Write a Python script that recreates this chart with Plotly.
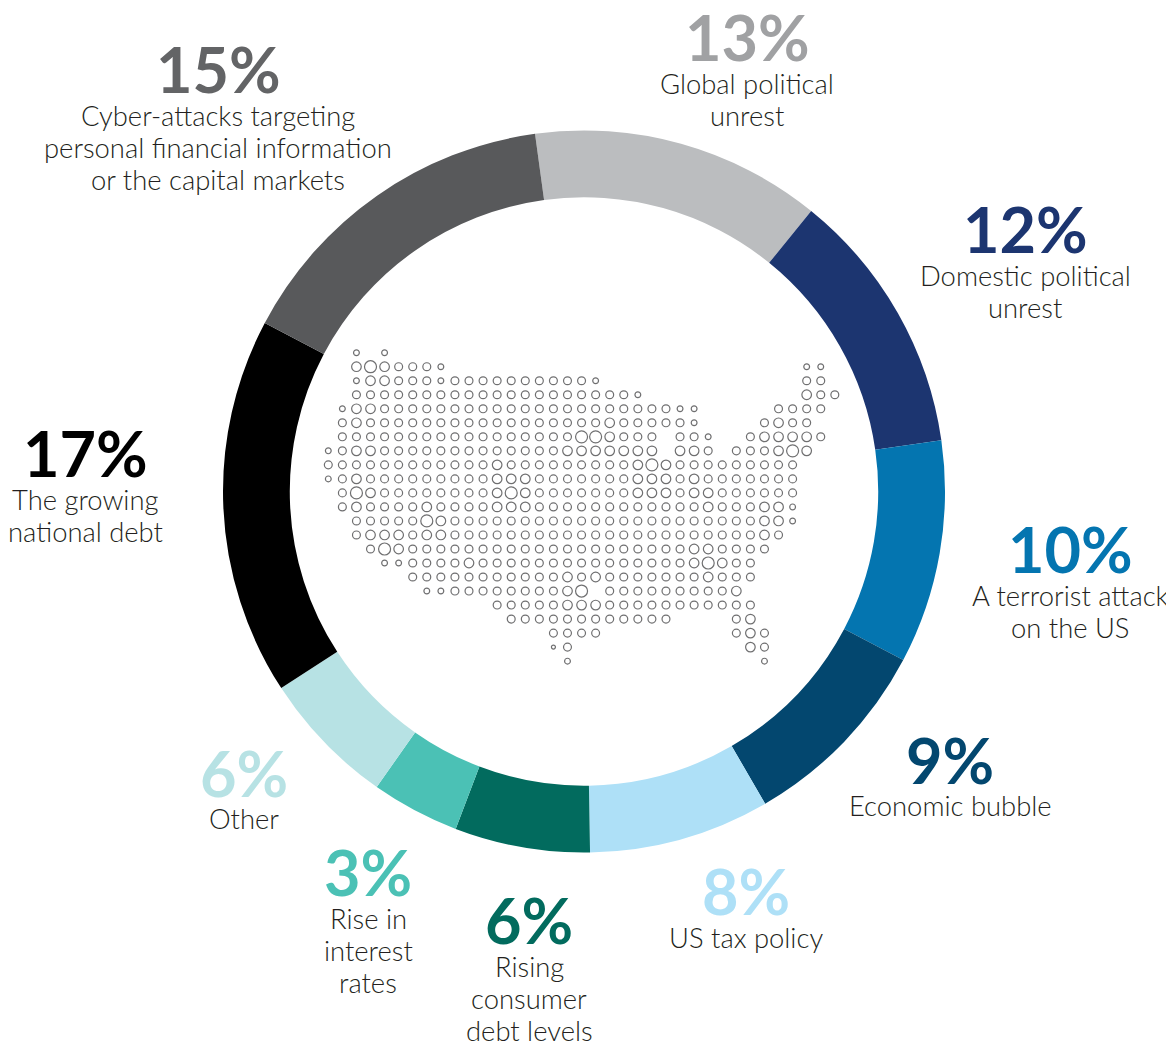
import plotly.graph_objects as go

# ---- chart data ----
categories = ["Global political\nunrest", "Domestic political\nunrest", "A terrorist attack\non the US",
              "Economic bubble", "US tax policy", "Rising\nconsumer\ndebt levels",
              "Rise in\ninterest\nrates", "Other", "The growing\nnational debt",
              "Cyber-attacks targeting\npersonal financial information\nor the capital markets"]
percent_labels = [13, 12, 10, 9, 8, 6, 3, 6, 17, 15]
# arc shares as drawn in the picture (slightly different from the rounded labels)
slice_shares = [13.0, 11.9, 10.0, 8.9, 8.1, 6.05, 3.95, 6.1, 16.9, 15.1]
slice_colors = ["#bbbdbf", "#1c3570", "#0475b0", "#03476f", "#aee0f7",
                "#026b5e", "#4bc1b5", "#b7e2e4", "#000000", "#58595b"]
value_colors = ["#a0a1a3", "#1c3570", "#0475b0", "#03476f", "#aee0f7",
                "#026b5e", "#4bc1b5", "#b7e2e4", "#000000", "#636466"]

# dot map: one string per grid row, one character per grid column
# , tiny  . small  o regular  O large  @ largest
map_rows = [
    "  . .",
    "  O@Oooo." + " " * 25 + "..",
    "  .OOooo." + "o" * 10 + "." + " " * 14 + "oo",
    "  " + "o" * 20 + "." + " " * 11 + "Ooo",
    " .OO" + "o" * 21 + ".." + " " * 5 + "oooo",
    " oO" + "o" * 17 + "O" + "ooooo" + "." + " " * 4 + "oOoo",
    " " + "o" * 17 + "@@O" + "ooo" + " " + "oo." + "  " + "oOOOOo",
    ".oOO" + "o" * 13 + "OO" + "OOOOO" + " " + "OOo" + " " + "ooo" + "O@O",
    "o" * 12 + "Oo" + "o" * 8 + "O@O" + "o" * 9,
    ".oO" + "o" * 9 + "OOO" + "o" * 7 + "OOO" + "oO" + "o" * 7,
    " o@O" + "o" * 8 + "O@O" + "o" * 7 + "OOO" + "oOO" + "o" * 6,
    " oO" + "o" * 4 + "O" + "o" * 4 + "OOO" + "o" * 12 + "O" + "o" * 3 + "OO.",
    "  " + "o" * 5 + "@O" + "o" * 22 + "OO.",
    "  oOOOoOO" + "o" * 22 + "Oo",
    "   o@O" + "o" * 20 + "OO" + "o" * 4,
    "    .." + "o" * 4 + "O" + "o" * 15 + "O@O" + "oo",
    " " * 6 + "o" * 11 + "OoO" + "o" * 7 + "O" + "o" * 3,
    " " * 7 + ".." + "o" * 8 + "O@" + " " + "o" * 9 + "O",
    " " * 12 + "o" * 5 + "OOO" + "o" * 11,
    " " * 13 + "o" * 12 + " " * 4 + "oO",
    " " * 16 + "o" * 4 + " " * 9 + "oOo",
    " " * 16 + ",o" + " " * 12 + "Oo",
    " " * 17 + "." + " " * 13 + ".",
]
dot_sizes = {",": 4, ".": 5.8, "o": 7.9, "O": 9.6, "@": 12}

# ---- layout of the picture (pixels in the window; the page body adds an 8 px margin) ----
W, H = 1174, 1045
PAGE = 8
cx, cy, R = 584, 491.5, 361
GRID_X0, GRID_Y0, GRID_STEP_X, GRID_STEP_Y = 328.3, 352.7, 14.07, 14.02
# centre x, centre y of the big number, first text line y
text_pos = [(747, 36.5, 83.5), (1025, 228.5, 275.5), (1070, 548.5, 595.5), (950, 759.5, 805.5),
            (746, 890.5, 937.5), (529, 919.5, 966.5), (368, 871.5, 918.5), (244, 772.5, 818.5),
            (85, 452.5, 499.5), (218, 68.5, 115.5)]
LINE = 32


def fx(px):
    return (px - PAGE) / W


def fy(px):
    return 1 - (px - PAGE) / H


dots_x, dots_y, dots_s = [], [], []
for r, row in enumerate(map_rows):
    for c, ch in enumerate(row):
        if ch != " ":
            dots_x.append(c)
            dots_y.append(r)
            dots_s.append(dot_sizes[ch])

fig = go.Figure()
fig.add_trace(go.Pie(
    values=slice_shares, labels=[c.replace("\n", " ") for c in categories],
    sort=False, direction="clockwise", rotation=-7.8, hole=0.815,
    marker=dict(colors=slice_colors, line=dict(width=0)),
    textinfo="none", showlegend=False,
    domain=dict(x=[fx(cx - R), fx(cx + R)], y=[fy(cy + R), fy(cy - R)]),
))
fig.add_trace(go.Scatter(
    x=dots_x, y=dots_y, mode="markers", showlegend=False, hoverinfo="skip",
    marker=dict(size=dots_s, color="rgba(0,0,0,0)", line=dict(color="#333335", width=1.2)),
))

ann = []
for cat, val, col, (tx, ty, ly) in zip(categories, percent_labels, value_colors, text_pos):
    ann.append(dict(x=fx(tx), y=fy(ty), xref="paper", yref="paper", showarrow=False,
                    text=f"{val}%", font=dict(family="Lato", size=63, color=col, weight=700),
                    xanchor="center", yanchor="middle"))
    for i, line in enumerate(cat.split("\n")):
        ann.append(dict(x=fx(tx), y=fy(ly + i * LINE), xref="paper", yref="paper", showarrow=False,
                        text=line, font=dict(family="Lato", size=27.4, color="#231f20", weight=300),
                        xanchor="center", yanchor="middle"))

fig.update_layout(
    width=W, height=H, margin=dict(l=0, r=0, t=0, b=0),
    paper_bgcolor="white", plot_bgcolor="rgba(0,0,0,0)", annotations=ann,
    xaxis=dict(visible=False, fixedrange=True,
               range=[(PAGE - GRID_X0) / GRID_STEP_X, (PAGE + W - GRID_X0) / GRID_STEP_X]),
    yaxis=dict(visible=False, fixedrange=True,
               range=[(PAGE + H - GRID_Y0) / GRID_STEP_Y, (PAGE - GRID_Y0) / GRID_STEP_Y]),
)
fig.write_html("out.html")
